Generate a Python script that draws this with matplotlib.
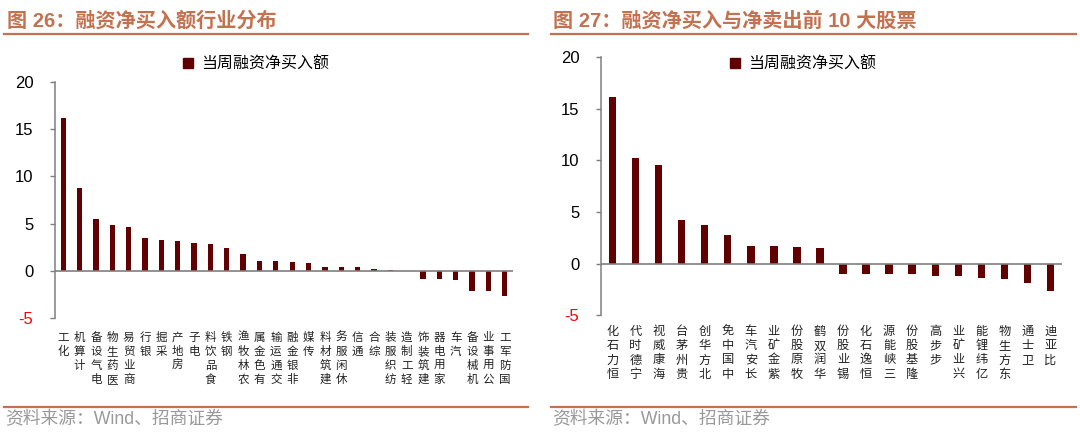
#!/usr/bin/env python3
# two bar panels: margin financing net buying by industry / top stocks

import matplotlib
matplotlib.use('AGG')
import matplotlib.pyplot as plt
from matplotlib.lines import Line2D
from matplotlib.patches import Patch

plt.rcParams['font.family'] = ['Liberation Sans', 'Noto Sans CJK SC', 'DejaVu Sans']

BAR_COLOR = '#600000'
ACCENT = '#C4714F'
AXIS_GRAY = '#7f7f7f'

left_title = '图 26：融资净买入额行业分布'
right_title = '图 27：融资净买入与净卖出前 10 大股票'
legend_label = '当周融资净买入额'
source_text = '资料来源：Wind、招商证券'

y_ticks = [-5, 0, 5, 10, 15, 20]

left_categories = ['化工', '计算机', '电气设备', '医药生物', '商业贸易', '银行', '采掘',
                   '房地产', '电子', '食品饮料', '钢铁', '农林牧渔', '有色金属', '交通运输',
                   '非银金融', '传媒', '建筑材料', '休闲服务', '通信', '综合', '纺织服装',
                   '轻工制造', '建筑装饰', '家用电器', '汽车', '机械设备', '公用事业', '国防军工']
left_values = [16.2, 8.8, 5.5, 4.9, 4.65, 3.5, 3.25, 3.2, 2.95, 2.85, 2.4, 1.75, 1.05, 1.05,
               0.95, 0.8, 0.45, 0.45, 0.35, 0.15, 0.1, 0.02, -0.85, -0.85, -1.0, -2.1, -2.1, -2.65]

right_categories = ['恒力石化', '宁德时代', '海康威视', '贵州茅台', '北方华创', '中国中免',
                    '长安汽车', '紫金矿业', '牧原股份', '华润双鹤', '锡业股份', '恒逸石化',
                    '三峡能源', '隆基股份', '步步高', '兴业矿业', '亿纬锂能', '东方生物',
                    '卫士通', '比亚迪']
right_values = [16.1, 10.2, 9.5, 4.25, 3.7, 2.75, 1.75, 1.7, 1.6, 1.5, -1.05, -1.05, -1.05,
                -1.05, -1.15, -1.15, -1.4, -1.5, -1.9, -2.65]


def stacked(name):
    # vertical label, read bottom to top, glyphs upright
    return '\n'.join(reversed(name))


def draw_panel(fig, rect, categories, values, legend_pos, label_size, label_pad):
    ax = fig.add_axes(rect)
    x = list(range(len(categories)))
    ax.bar(x, values, width=0.32, color=BAR_COLOR, linewidth=0)
    ax.axhline(0, color=AXIS_GRAY, lw=1.2, zorder=3)

    ax.set_xlim(-0.5, len(categories) - 0.5)
    ax.set_ylim(-5, 20)
    ax.set_yticks(y_ticks)
    ax.set_yticklabels([str(t) for t in y_ticks], fontsize=12)
    ax.get_yticklabels()[0].set_color('#ff0000')

    for side in ('top', 'right', 'bottom'):
        ax.spines[side].set_visible(False)
    ax.spines['left'].set_color(AXIS_GRAY)
    ax.spines['left'].set_linewidth(1.1)
    ax.tick_params(axis='y', direction='out', length=3.6, width=1.0,
                   color=AXIS_GRAY, pad=12)

    ax.set_xticks(x)
    ax.set_xticklabels([stacked(c) for c in categories], fontsize=label_size,
                       family=['Noto Sans CJK SC'], linespacing=1.12, color='#222222')
    ax.tick_params(axis='x', length=0, pad=label_pad)

    ax.legend([Patch(color=BAR_COLOR)], [legend_label], loc='center',
              bbox_to_anchor=legend_pos, bbox_transform=fig.transFigure,
              frameon=False, handlelength=0.6, handleheight=0.6, handletextpad=0.5,
              prop={'family': ['Noto Sans CJK SC'], 'size': 11.5})
    return ax


fig = plt.figure(figsize=(10.8, 4.4), dpi=100)

draw_panel(fig, [55 / 1080, 1 - 318 / 440, 458 / 1080, 236 / 440],
           left_categories, left_values, (256 / 1080, 1 - 64 / 440), 8.3, 9)
draw_panel(fig, [601 / 1080, 1 - 315.3 / 440, 461 / 1080, 258.3 / 440],
           right_categories, right_values, (803 / 1080, 1 - 64 / 440), 8.8, 7)

# titles, rules and sources
for x0, x1, title in [(4, 528, left_title), (551, 1076, right_title)]:
    fig.text(7 / 1080 if x0 < 500 else 553 / 1080, 1 - 21 / 440, title,
             fontsize=14.5, weight='bold', color=ACCENT, va='center', ha='left')
    fig.add_artist(Line2D([x0 / 1080, x1 / 1080], [1 - 34.5 / 440] * 2,
                          color=ACCENT, lw=1.6))
    fig.add_artist(Line2D([x0 / 1080, x1 / 1080], [1 - 406.5 / 440] * 2,
                          color=ACCENT, lw=1.6))
    fig.text(x0 / 1080 + 1 / 1080, 1 - 420 / 440, source_text, fontsize=12.8,
             color='#999999', va='center', ha='left')

fig.savefig('out.png', dpi=100)
